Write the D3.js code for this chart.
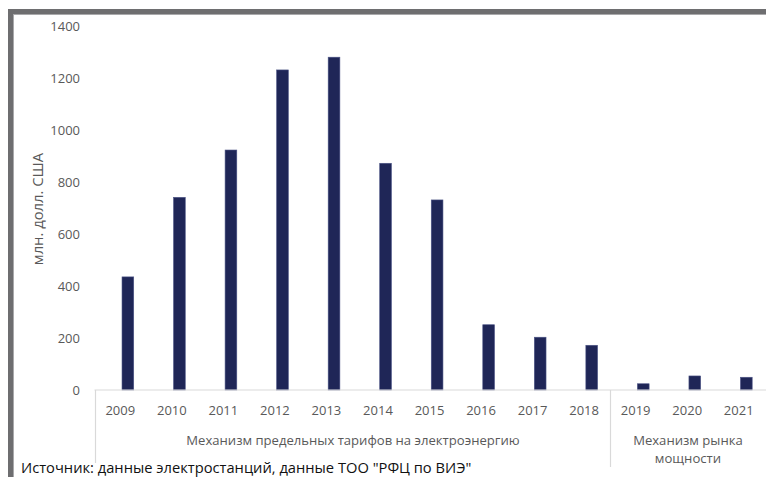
<!DOCTYPE html>
<html>
<head>
<meta charset="utf-8">
<script src="https://cdn.jsdelivr.net/npm/d3@7"></script>
<style>
  html, body { margin: 0; padding: 0; background: #fff; }
  svg { display: block; }
  text { font-family: "Open Sans", "Noto Sans", sans-serif; }
</style>
</head>
<body>
<svg id="chart" width="766" height="477"></svg>
<script>
// Annual investment in renewable power plants, mln USD
const years = ["2009", "2010", "2011", "2012", "2013", "2014", "2015",
               "2016", "2017", "2018", "2019", "2020", "2021"];
const values = [435, 741, 923, 1231, 1280, 872, 731, 251, 203, 172, 24, 54, 49];
const yTicks = [0, 200, 400, 600, 800, 1000, 1200, 1400];
const groups = [
  { lines: ["Механизм предельных тарифов на электроэнергию"], from: "2009", to: "2018" },
  { lines: ["Механизм рынка", "мощности"], from: "2019", to: "2021" }
];
const yTitle = "млн. долл. США";
const sourceNote = "Источник: данные электростанций, данные ТОО \"РФЦ по ВИЭ\"";

const svg = d3.select("#chart");
const W = 766, H = 477;
const gridColor = "#d9d9d9";
const labelColor = "#595959";

// outer frame (top and left edges only)
svg.append("rect").attr("x", 8).attr("y", 9).attr("width", W - 8).attr("height", 6).attr("fill", "#6e6e70");
svg.append("rect").attr("x", 8).attr("y", 9).attr("width", 6).attr("height", H - 9).attr("fill", "#6e6e70");
svg.append("rect").attr("x", 14).attr("y", 14).attr("width", W - 14).attr("height", 1).attr("fill", "#a9a9ab");
svg.append("rect").attr("x", 13).attr("y", 14).attr("width", 1).attr("height", H - 14).attr("fill", "#a9a9ab");

const x = d3.scaleBand().domain(years).range([94.5, 764.5]).padding(0);
const y = d3.scaleLinear().domain([0, 1400]).range([390, 26]);

// y tick labels
const yAxis = d3.axisLeft(y).tickValues(yTicks).tickFormat(d3.format("d")).tickSize(0).tickPadding(0);
const gy = svg.append("g").attr("transform", "translate(80,0)").call(yAxis);
gy.select(".domain").remove();
gy.selectAll("text")
  .attr("fill", labelColor)
  .style("font-size", "13px")
  .style("font-family", "'Open Sans', sans-serif");

// y axis title
svg.append("text")
  .attr("transform", `translate(43,${(y(0) + y(1400)) / 2 + 1}) rotate(-90)`)
  .attr("text-anchor", "middle")
  .attr("fill", labelColor)
  .style("font-size", "14.8px")
  .text(yTitle);

// bars
const barW = 11.7, barOffset = 7.6;
svg.append("g").selectAll("rect")
  .data(values)
  .join("rect")
  .attr("x", (d, i) => x(years[i]) + x.bandwidth() / 2 + barOffset - barW / 2)
  .attr("y", d => y(d))
  .attr("width", barW)
  .attr("height", d => y(0) - y(d))
  .attr("fill", "#1f2657")
  .attr("stroke", "#4b5385")
  .attr("stroke-width", 0.6);

// category axis: baseline and year labels
const xAxis = d3.axisBottom(x).tickSize(0).tickPadding(0);
const gx = svg.append("g").attr("transform", `translate(0,${y(0)})`).call(xAxis);
gx.select(".domain").remove();
gx.selectAll("text")
  .attr("dy", null)
  .attr("y", 25)
  .attr("fill", labelColor)
  .style("font-size", "13px")
  .style("font-family", "'Open Sans', sans-serif");

svg.append("line")
  .attr("x1", x.range()[0]).attr("x2", W)
  .attr("y1", y(0)).attr("y2", y(0))
  .attr("stroke", gridColor).attr("stroke-width", 1.2);

// group separators and group labels
const sepBottom = [463, 467];
groups.forEach((g, gi) => {
  const x0 = x(g.from);
  const x1 = x(g.to) + x.bandwidth();
  const cx = (x0 + Math.min(x1 + 1.5, W)) / 2;
  svg.append("line")
    .attr("x1", Math.round(x0) + 0.5).attr("x2", Math.round(x0) + 0.5)
    .attr("y1", y(0)).attr("y2", sepBottom[gi])
    .attr("stroke", gridColor).attr("stroke-width", 1.2);
  const t = svg.append("text")
    .attr("x", cx)
    .attr("y", 445)
    .attr("text-anchor", "middle")
    .attr("fill", labelColor)
    .style("font-size", "13.1px");
  g.lines.forEach((ln, li) => {
    t.append("tspan").attr("x", cx).attr("dy", li === 0 ? 0 : 18).text(ln);
  });
});

// source note
svg.append("text")
  .attr("x", 21)
  .attr("y", 473)
  .attr("fill", "#111")
  .style("font-size", "14.7px")
  .text(sourceNote);
</script>
</body>
</html>
